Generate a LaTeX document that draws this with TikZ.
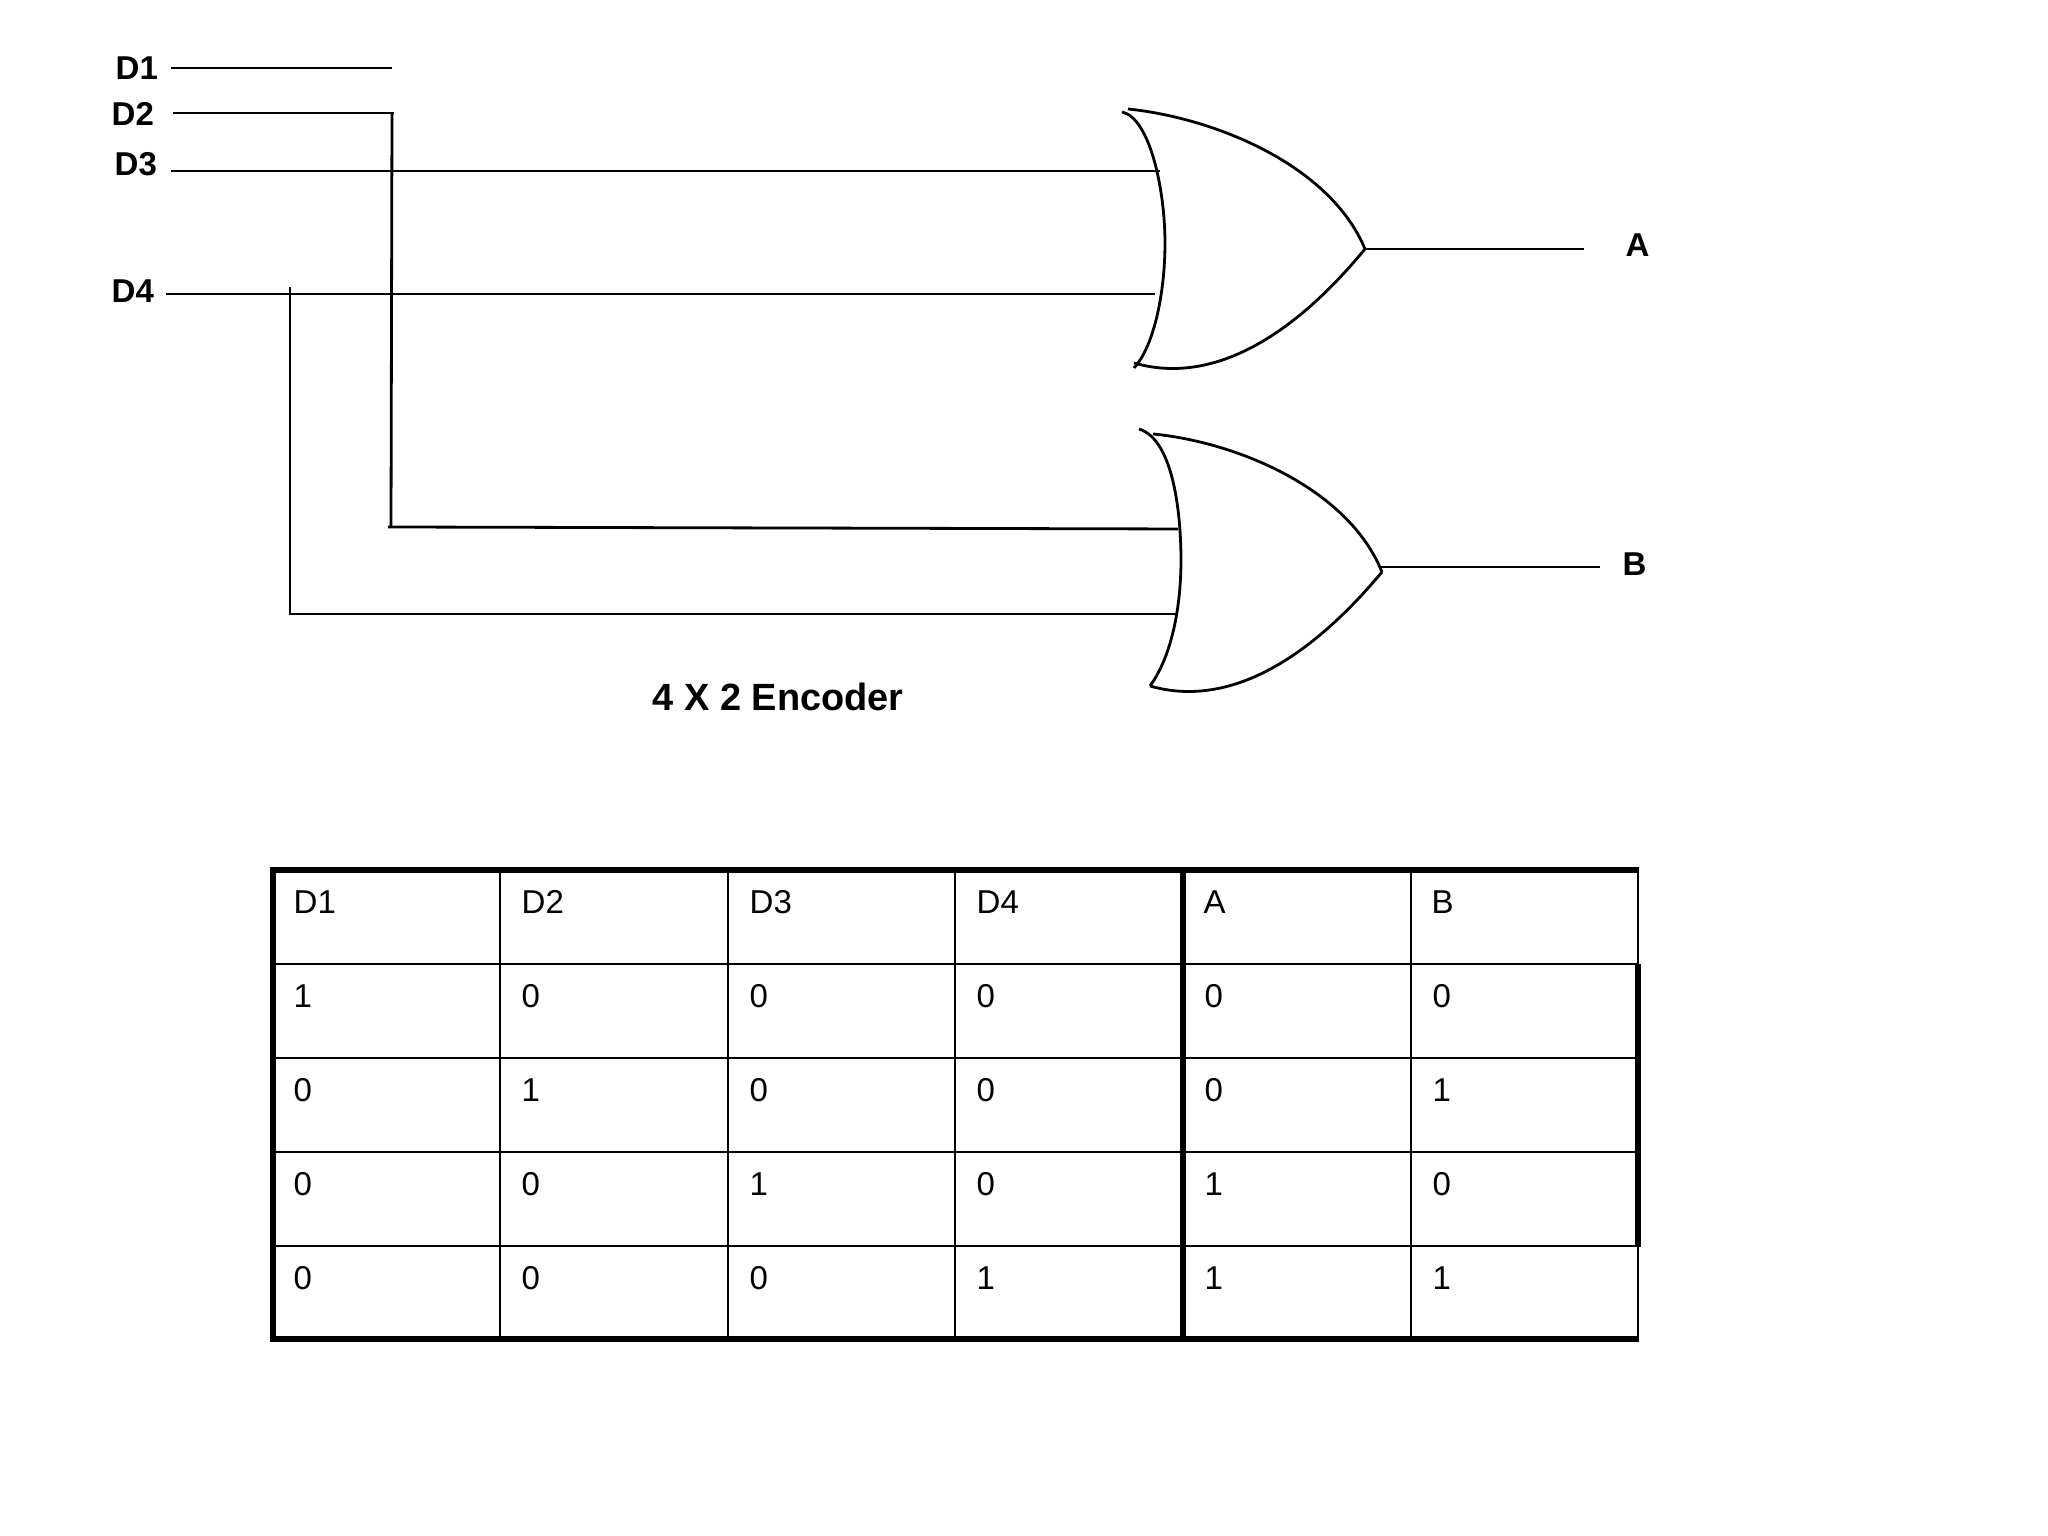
\documentclass[tikz,border=0pt]{standalone}
\usepackage{fontspec}
\setmainfont{Liberation Sans}
\tikzset{
	wire/.style={line width=0.28mm, color=black},
	gridline/.style={line width=0.29mm, color=black},
	thickline/.style={line width=0.65mm, color=black},
	pinlabel/.style={anchor=base west, inner sep=0pt, font=\fontsize{9.4}{11}\selectfont\bfseries},
	titlelabel/.style={anchor=base west, inner sep=0pt, font=\fontsize{10.8}{13}\selectfont\bfseries},
	cell/.style={anchor=base west, inner sep=0pt, font=\fontsize{9.4}{11}\selectfont}
}

\begin{document}
\begin{tikzpicture}
		%%%%% START %%%%%
		\useasboundingbox (0, 0) rectangle (20.48, 15.36);
		
		\node[pinlabel] (d1) at (1.15, 14.56) {D1};
		\node[pinlabel] (d2) at (1.11, 14.10) {D2};
		\node[pinlabel] (d3) at (1.14, 13.60) {D3};
		\node[pinlabel] (d4) at (1.11, 12.33) {D4};
		\node[pinlabel] (outa) at (16.25, 12.79) {A};
		\node[pinlabel] (outb) at (16.22, 9.60) {B};
		\node[titlelabel] (title) at (6.52, 8.25) {4 X 2 Encoder};
		
		\coordinate (d1start) at (1.71, 14.68);
		\coordinate (d1end) at (3.92, 14.68);
		\coordinate (d2start) at (1.73, 14.23);
		\coordinate (d2corner) at (3.94, 14.23);
		\coordinate (d2top) at (3.92, 14.23);
		\coordinate (d2bottom) at (3.91, 10.08);
		\coordinate (d2foot) at (3.88, 10.09);
		\coordinate (d3start) at (1.71, 13.65);
		\coordinate (d4start) at (1.66, 12.42);
		\coordinate (d4top) at (2.90, 12.49);
		\coordinate (d4corner) at (2.90, 9.22);
		
		\coordinate (g1in1) at (11.60, 13.65);
		\coordinate (g1in2) at (11.55, 12.42);
		\coordinate (g1tip) at (13.65, 12.87);
		\coordinate (g1out) at (15.84, 12.87);
		\coordinate (g2in1) at (11.78, 10.07);
		\coordinate (g2in2) at (11.76, 9.22);
		\coordinate (g2tip) at (13.82, 9.64);
		\coordinate (g2start) at (13.80, 9.69);
		\coordinate (g2out) at (16.00, 9.69);
		
		% upper gate
		\draw[wire] (11.22, 14.24) .. controls (11.50, 14.18) and (11.65, 13.46) .. (11.65, 12.93) .. controls (11.65, 12.46) and (11.55, 11.91) .. (11.34, 11.68);
		\draw[wire] (11.28, 14.27) .. controls (12.15, 14.18) and (13.30, 13.71) .. (g1tip);
		\draw[wire] (11.34, 11.73) .. controls (12.10, 11.51) and (12.90, 11.96) .. (g1tip);
		
		% lower gate
		\draw[wire] (11.39, 11.07) .. controls (11.75, 10.96) and (11.81, 10.16) .. (11.81, 9.76) .. controls (11.81, 9.30) and (11.72, 8.80) .. (11.50, 8.50);
		\draw[wire] (11.53, 11.02) .. controls (12.36, 10.94) and (13.48, 10.48) .. (g2tip);
		\draw[wire] (11.50, 8.50) .. controls (12.26, 8.28) and (13.06, 8.73) .. (g2tip);
		
		\draw[wire] (d1start) -- (d1end);
		\draw[wire] (d2start) -- (d2corner);
		\draw[wire] (d2top) -- (d2bottom);
		\draw[wire] (d2foot) -- (g2in1);
		\draw[wire] (d3start) -- (g1in1);
		\draw[wire] (d4start) -- (g1in2);
		\draw[wire] (d4top) -- (d4corner) -- (g2in2);
		\draw[wire] (g1tip) -- (g1out);
		\draw[wire] (g2start) -- (g2out);
		
		% table grid
		\draw[gridline] (2.73, 5.72) -- (16.38, 5.72);
		\draw[gridline] (2.73, 4.78) -- (16.38, 4.78);
		\draw[gridline] (2.73, 3.84) -- (16.38, 3.84);
		\draw[gridline] (2.73, 2.90) -- (16.38, 2.90);
		\draw[gridline] (5.00, 6.66) -- (5.00, 1.97);
		\draw[gridline] (7.28, 6.66) -- (7.28, 1.97);
		\draw[gridline] (9.55, 6.66) -- (9.55, 1.97);
		\draw[gridline] (14.11, 6.66) -- (14.11, 1.97);
		\draw[gridline] (16.38, 6.66) -- (16.38, 1.97);
		\draw[thickline] (2.70, 6.66) -- (16.39, 6.66);
		\draw[thickline] (2.70, 1.97) -- (16.39, 1.97);
		\draw[thickline] (2.73, 6.69) -- (2.73, 1.94);
		\draw[thickline] (11.83, 6.66) -- (11.83, 1.94);
		\draw[thickline] (16.38, 5.72) -- (16.38, 2.89);
		
		\node[cell] (h1) at (2.93, 6.22) {D1};
		\node[cell] (h2) at (5.21, 6.22) {D2};
		\node[cell] (h3) at (7.49, 6.22) {D3};
		\node[cell] (h4) at (9.76, 6.22) {D4};
		\node[cell] (h5) at (12.03, 6.22) {A};
		\node[cell] (h6) at (14.31, 6.22) {B};
		
		\node[cell] (a1) at (2.93, 5.28) {1};
		\node[cell] (a2) at (5.21, 5.28) {0};
		\node[cell] (a3) at (7.49, 5.28) {0};
		\node[cell] (a4) at (9.76, 5.28) {0};
		\node[cell] (a5) at (12.04, 5.28) {0};
		\node[cell] (a6) at (14.32, 5.28) {0};
		
		\node[cell] (b1) at (2.93, 4.34) {0};
		\node[cell] (b2) at (5.21, 4.34) {1};
		\node[cell] (b3) at (7.49, 4.34) {0};
		\node[cell] (b4) at (9.76, 4.34) {0};
		\node[cell] (b5) at (12.04, 4.34) {0};
		\node[cell] (b6) at (14.32, 4.34) {1};
		
		\node[cell] (c1) at (2.93, 3.40) {0};
		\node[cell] (c2) at (5.21, 3.40) {0};
		\node[cell] (c3) at (7.49, 3.40) {1};
		\node[cell] (c4) at (9.76, 3.40) {0};
		\node[cell] (c5) at (12.04, 3.40) {1};
		\node[cell] (c6) at (14.32, 3.40) {0};
		
		\node[cell] (e1) at (2.93, 2.46) {0};
		\node[cell] (e2) at (5.21, 2.46) {0};
		\node[cell] (e3) at (7.49, 2.46) {0};
		\node[cell] (e4) at (9.76, 2.46) {1};
		\node[cell] (e5) at (12.04, 2.46) {1};
		\node[cell] (e6) at (14.32, 2.46) {1};
		
		%%%%% END %%%%%
	\end{tikzpicture}
\end{document}
